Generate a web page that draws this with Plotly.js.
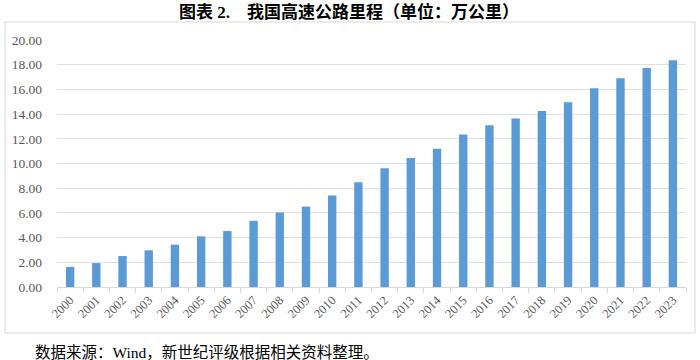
<!DOCTYPE html>
<html>
<head>
<meta charset="utf-8">
<script src="https://cdn.plot.ly/plotly-3.0.1.min.js"></script>
<style>html,body{margin:0;padding:0;background:#fff;}#chart{width:700px;height:360px;}</style>
</head>
<body>
<div id="chart"></div>
<script>
const years = ["2000","2001","2002","2003","2004","2005","2006","2007","2008","2009","2010","2011","2012","2013","2014","2015","2016","2017","2018","2019","2020","2021","2022","2023"];
const mileage = [1.63,1.94,2.51,2.97,3.43,4.10,4.53,5.36,6.03,6.51,7.41,8.49,9.62,10.44,11.19,12.35,13.10,13.65,14.26,14.96,16.10,16.91,17.73,18.36];
const yTicks = [0,2,4,6,8,10,12,14,16,18,20];
const titleLabel = "图表 2.";
const titleText = "我国高速公路里程（单位：万公里）";
const sourceText = "数据来源：Wind，新世纪评级根据相关资料整理。";

const serif = "Liberation Serif, Times New Roman, Noto Sans CJK SC, serif";
const L = 57, R = 14, T = 40, B = 73, W = 700, H = 360;
const pw = W - L - R, ph = H - T - B;

Plotly.newPlot("chart", [{
  type: "bar",
  x: years,
  y: mileage,
  marker: {color: "#5b9bd5"},
  hoverinfo: "x+y"
}], {
  width: W, height: H,
  margin: {l: L, r: R, t: T, b: B, pad: 0},
  paper_bgcolor: "#fff", plot_bgcolor: "#fff",
  bargap: 0.68,
  showlegend: false,
  xaxis: {
    type: "category",
    tickangle: -45,
    tickfont: {family: serif, size: 12.5, color: "#595959"},
    showline: true, linecolor: "#d9d9d9", linewidth: 1,
    ticks: "outside", tickson: "boundaries", ticklen: 5, tickcolor: "#d9d9d9",
    showgrid: false
  },
  yaxis: {
    range: [0, 20],
    tickvals: yTicks,
    ticktext: yTicks.map(v => v.toFixed(2)),
    tickfont: {family: serif, size: 13.5, color: "#595959"},
    showgrid: true, gridcolor: "#e0e0e0", gridwidth: 1,
    zeroline: false, showline: false,
    ticklabelstandoff: 14
  },
  shapes: [{
    type: "rect", xref: "paper", yref: "paper",
    x0: (5 - L) / pw, x1: (695 - L) / pw,
    y0: (H - B - 333) / ph, y1: (H - B - 22) / ph,
    line: {color: "#d9d9d9", width: 1}, fillcolor: "rgba(0,0,0,0)", layer: "below"
  }],
  annotations: [{
    text: "<b>" + titleLabel + "&nbsp;&nbsp;&nbsp;&nbsp;" + titleText + "</b>",
    xref: "paper", yref: "paper",
    x: (349 - L) / pw, y: (H - B - 12) / ph,
    xanchor: "center", yanchor: "middle", showarrow: false,
    font: {family: serif, size: 17, color: "#000"}
  }, {
    text: sourceText,
    xref: "paper", yref: "paper",
    x: (33 - L) / pw, y: (H - B - 352) / ph,
    xanchor: "left", yanchor: "middle", showarrow: false,
    font: {family: serif, size: 15.5, color: "#000"}
  }]
}, {displayModeBar: false, staticPlot: true});
</script>
</body>
</html>
